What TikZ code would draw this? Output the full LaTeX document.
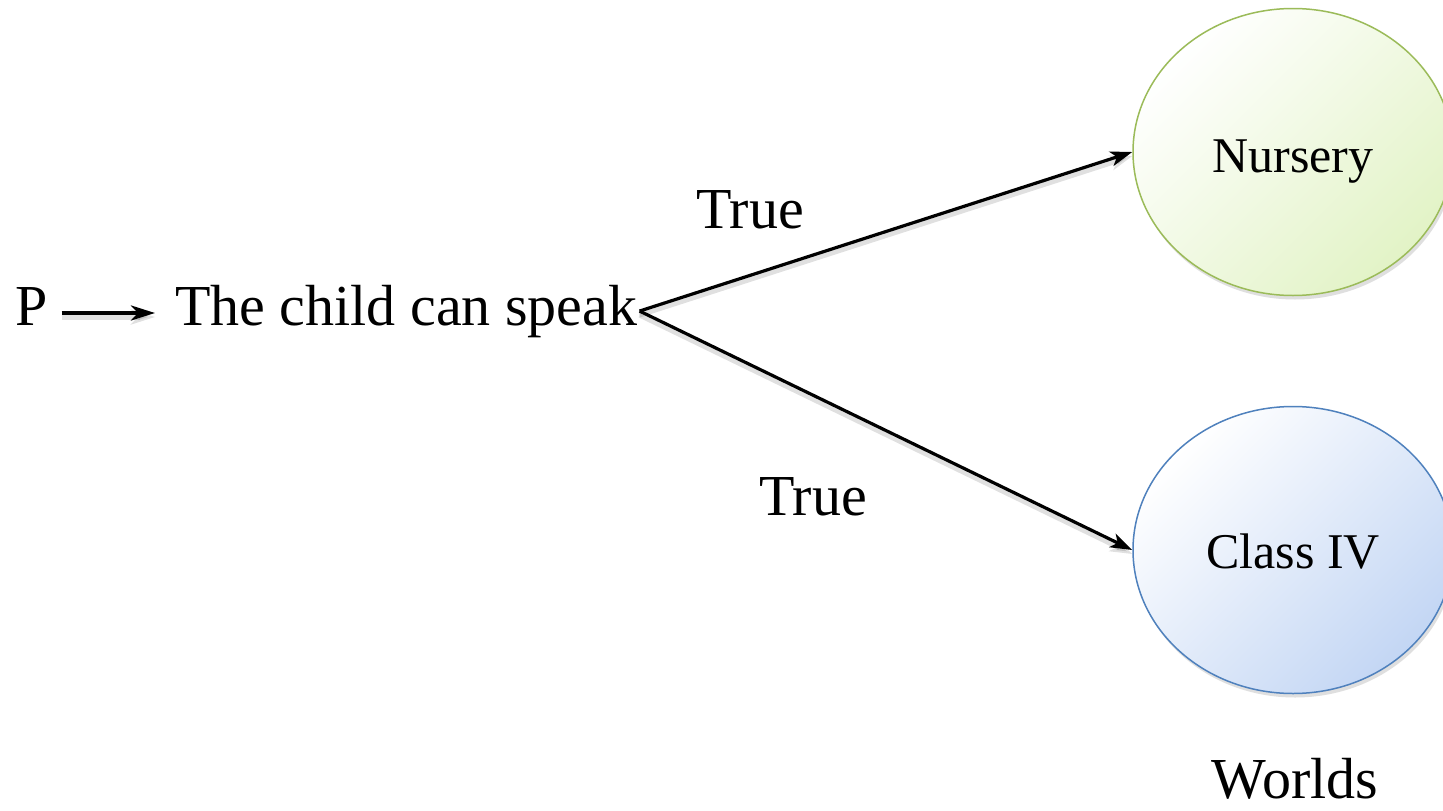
\documentclass[tikz,border=0pt]{standalone}
\usepackage{fontspec}
\setmainfont{Liberation Serif}
\usetikzlibrary{arrows.meta,shadows,shapes.geometric}
\definecolor{greenline}{HTML}{9BBB59}
\definecolor{greenfill}{HTML}{E2F3C6}
\definecolor{blueline}{HTML}{4F81BD}
\definecolor{bluefill}{HTML}{C3D6F4}
\tikzset{
  bigtext/.style={font=\fontsize{58}{60}\selectfont, inner sep=0pt},
  worldtext/.style={font=\fontsize{50}{52}\selectfont, inner sep=0pt},
  world/.style={ellipse, minimum width=320pt, minimum height=287pt, inner sep=0pt, line width=1.5pt,
    drop shadow={opacity=0.25, shadow xshift=2pt, shadow yshift=-4pt}},
  conn/.style={line width=3.2pt, -{Stealth[length=22pt,width=15pt,inset=6pt]},
    preaction={draw, black, opacity=0.12, line width=5pt, transform canvas={yshift=-4pt}}}
}
\begin{document}
\begin{tikzpicture}[x=1pt,y=-1pt]
\useasboundingbox (0,0) rectangle (1443,811);
\fill[white] (0,0) rectangle (1443,811);
\node[bigtext, anchor=base west] (P) at (15,325) {P};
\node[bigtext, anchor=base west] (speak) at (175,325) {The child can speak};
\node[world, draw=greenline, top color=white, bottom color=greenfill, shading angle=45] (nursery) at (1293,152) {};
\node[worldtext, anchor=base] (nurserylbl) at (1293,172) {Nursery};
\node[world, draw=blueline, top color=white, bottom color=bluefill, shading angle=45] (classiv) at (1293,550) {};
\node[worldtext, anchor=base] (classivlbl) at (1293,568) {Class IV};
\node[bigtext, anchor=base] (t1) at (750,228) {True};
\node[bigtext, anchor=base] (t2) at (813,515) {True};
\node[bigtext, anchor=base] (worlds) at (1295,798) {Worlds};
\draw[conn, line width=4pt, -{Stealth[length=24pt,width=15pt,inset=7pt]}] ([shift={(14,-12)}]P.base east) -- ([shift={(-20,-12)}]speak.base west);
\draw[conn] ([xshift=2pt]speak.east) -- (nursery.west);
\draw[conn] ([xshift=2pt]speak.east) -- (classiv.west);
\end{tikzpicture}
\end{document}
